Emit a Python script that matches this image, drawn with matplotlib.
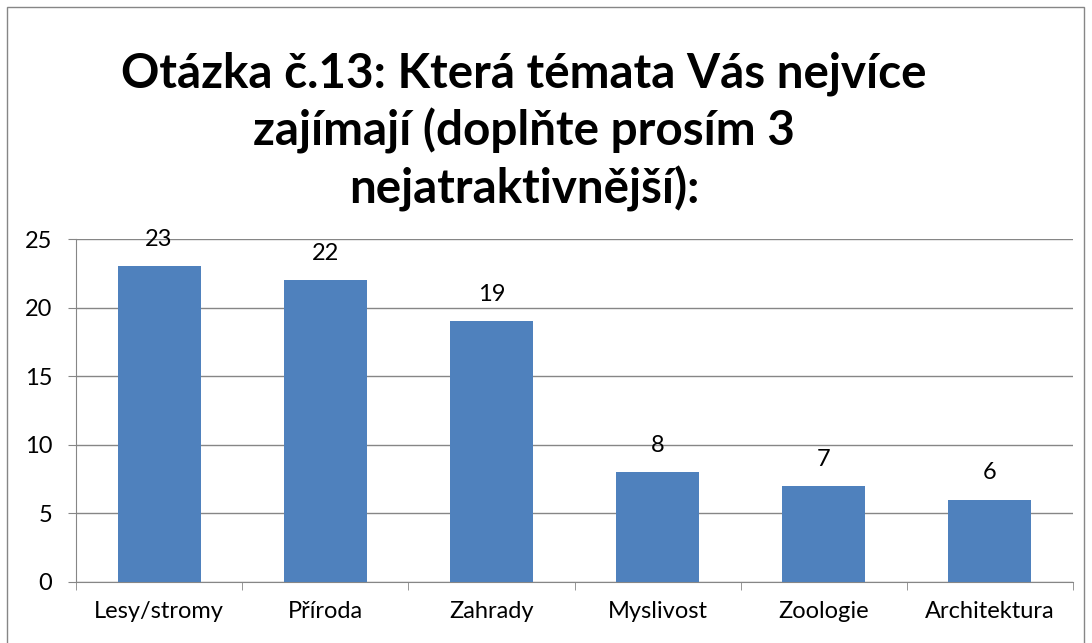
import matplotlib.pyplot as plt
from matplotlib.patches import Rectangle

categories = ['Lesy/stromy', 'Příroda', 'Zahrady', 'Myslivost', 'Zoologie', 'Architektura']
values = [23, 22, 19, 8, 7, 6]
yticks = [0, 5, 10, 15, 20, 25]
title = 'Otázka č.13: Která témata Vás nejvíce\nzajímají (doplňte prosím 3\nnejatraktivnější):'

plt.rcParams['font.family'] = ['Lato', 'DejaVu Sans']

fig = plt.figure(figsize=(10.92, 6.43), dpi=100)
ax = fig.add_axes([76 / 1092, 1 - 582 / 643, (1073 - 76) / 1092, (582 - 239) / 643])

x = range(len(categories))
bars = ax.bar(x, values, width=0.5, color='#4F81BD', zorder=3)
for xi, v in zip(x, values):
    ax.text(xi, v + 1.95, str(v), ha='center', va='center', fontsize=17)

ax.set_xlim(-0.5, len(categories) - 0.5)
ax.set_ylim(0, 25)
ax.set_yticks(yticks)
ax.set_xticks(list(x))
ax.set_xticklabels(categories)
ax.set_xticks([i - 0.5 for i in range(len(categories) + 1)], minor=True)
ax.tick_params(axis='x', which='major', length=0, pad=14, labelsize=17)
ax.tick_params(axis='x', which='minor', length=6, color='#868686', direction='out')
ax.tick_params(axis='y', length=6, color='#868686', pad=11, labelsize=17)
ax.grid(axis='y', color='#868686', linewidth=1, zorder=0)
for side in ['top', 'right']:
    ax.spines[side].set_visible(False)
for side in ['left', 'bottom']:
    ax.spines[side].set_color('#868686')

fig.text(524 / 1092, 1 - 132 / 643, title, ha='center', va='center', fontsize=34.3,
         fontweight='bold', linespacing=1.32)

fig.patches.append(Rectangle((7 / 1092, -0.01), (1084 - 7) / 1092, 1 - 7 / 643 + 0.01,
                             transform=fig.transFigure, fill=False,
                             edgecolor='#868686', linewidth=1))

fig.savefig('out.png', dpi=100)
